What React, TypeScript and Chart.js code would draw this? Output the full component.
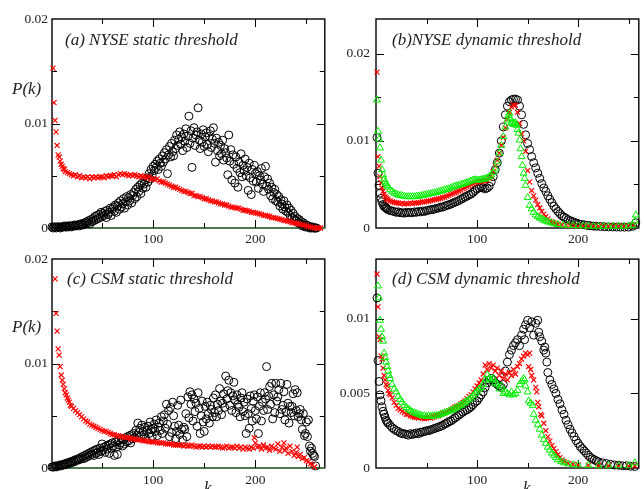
import React, { useEffect, useRef } from "react";
import { Chart, registerables } from "chart.js";

Chart.register(...registerables);

// ---------------- data: [k, P(k) x 1e3] ----------------
const nyseStaticCircles = [
[1,0.1],[2,0],[3,0.1],[4,0.1],[5,0],[6,0.1],[7,0.1],[8,0.1],[9,0],[10,0.1],
[11,0.1],[12,0.1],[13,0.2],[14,0.1],[15,0.1],[16,0.2],[17,0.1],[18,0.2],[19,0.2],[20,0.1],
[21,0.2],[22,0.2],[23,0.3],[24,0.2],[25,0.2],[26,0.3],[27,0.3],[28,0.2],[29,0.4],[30,0.3],
[31,0.4],[32,0.3],[33,0.5],[34,0.4],[35,0.6],[36,0.5],[37,0.7],[38,0.4],[39,0.8],[40,0.6],
[41,0.9],[42,0.7],[43,1.1],[44,0.8],[45,1.2],[46,0.9],[47,1.3],[48,1.0],[49,1.5],[50,1.1],
[51,1.4],[52,1.2],[53,1.6],[54,1.0],[55,1.7],[56,1.3],[57,1.5],[58,1.9],[59,1.2],[60,1.8],
[61,2.0],[62,1.6],[63,2.2],[64,1.5],[65,2.1],[66,2.4],[67,1.8],[68,2.6],[69,2.0],[70,2.3],
[71,2.8],[72,1.9],[73,2.5],[74,3.0],[75,2.2],[76,2.9],[77,2.6],[78,3.2],[79,2.4],[80,3.1],
[81,3.4],[82,2.8],[83,3.7],[84,3.0],[85,3.9],[86,3.5],[87,4.1],[88,3.3],[89,4.3],[90,3.8],
[91,4.2],[92,4.6],[93,3.9],[94,4.8],[95,4.4],[96,5.2],[97,4.7],[98,5.6],[99,5.0],[100,5.9],
[101,5.5],[102,6.1],[103,5.8],[104,6.4],[105,5.6],[106,6.6],[107,6.2],[108,5.9],[109,6.9],[110,6.3],
[111,7.2],[112,6.6],[113,7.5],[114,5.2],[115,7.0],[116,7.8],[117,6.8],[118,8.1],[119,7.3],[120,6.9],
[121,8.4],[122,7.6],[123,8.9],[124,7.9],[125,8.5],[126,9.2],[127,8.0],[128,8.7],[129,7.4],[130,9.0],
[131,8.3],[132,9.5],[133,7.7],[134,8.8],[135,10.7],[136,8.1],[137,9.3],[138,5.8],[139,8.6],[140,9.6],
[141,7.9],[142,8.9],[143,9.2],[144,11.5],[145,8.4],[146,7.6],[147,9.0],[148,8.2],[149,9.4],[150,7.8],
[151,8.7],[152,9.1],[153,8.0],[154,7.3],[155,8.8],[156,9.3],[157,7.7],[158,8.5],[159,9.6],[160,8.1],
[161,6.3],[162,8.6],[163,7.4],[164,8.2],[165,6.9],[166,7.9],[167,7.1],[168,8.4],[169,6.5],[170,7.6],
[171,7.2],[172,6.7],[173,5.1],[174,8.9],[175,6.4],[176,7.5],[177,4.6],[178,7.0],[179,6.1],[180,4.3],
[181,6.8],[182,5.7],[183,3.9],[184,6.3],[185,5.3],[186,7.1],[187,4.9],[188,6.0],[189,5.5],[190,6.6],
[191,5.0],[192,5.8],[193,3.6],[194,6.2],[195,4.8],[196,3.2],[197,5.6],[198,4.5],[199,6.0],[200,5.2],
[201,4.4],[202,5.4],[203,3.8],[204,5.0],[205,4.6],[206,5.7],[207,4.2],[208,3.5],[209,4.9],[210,5.9],
[211,4.0],[212,4.7],[213,3.7],[214,4.3],[215,3.1],[216,3.9],[217,2.8],[218,3.4],[219,3.7],[220,2.6],
[221,3.2],[222,2.5],[223,3.0],[224,2.1],[225,2.7],[226,2.3],[227,1.8],[228,2.6],[229,2.0],[230,1.6],
[231,2.2],[232,1.5],[233,1.9],[234,1.2],[235,1.7],[236,1.0],[237,1.4],[238,0.8],[239,1.1],[240,0.7],
[241,0.9],[242,0.5],[243,0.8],[244,0.4],[245,0.6],[246,0.2],[247,0.5],[248,0.3],[249,0.1],[250,0.3],
[251,0.1],[252,0.2],[253,0],[254,0.1],[255,0],[256,0.1],[257,0],[258,0],[259,0],[260,0]
];

const nyseStaticCrosses = [
[2,15.3],[3,12.0],[4,10.3],[5,9.2],[6,7.9],[7,7.0],[8,6.8],[9,6.4],[10,6.1],[11,5.9],[12,5.7],[13,5.6],[14,5.4],
[16,5.3],[18,5.2],[20,5.1],[22,5.0],[24,5.1],[26,4.9],[28,5.0],[30,4.8],[32,4.9],[34,4.8],[36,4.9],[38,4.7],[40,4.9],
[42,4.8],[44,4.9],[46,4.8],[48,4.9],[50,4.9],[52,4.8],[54,5.0],[56,4.9],[58,5.0],[60,5.0],[62,5.1],[64,4.9],
[66,5.1],[68,5.2],[70,5.1],[72,5.2],[74,5.1],[76,5.0],[78,5.1],[80,5.0],[82,5.1],[84,5.0],[86,4.9],[88,5.0],
[90,4.9],[92,4.9],[94,4.8],[96,4.9],[98,4.7],[100,4.7],[102,4.6],[104,4.7],[106,4.5],[108,4.4],[110,4.4],[112,4.3],
[114,4.2],[116,4.1],[118,4.0],[120,3.9],[122,3.9],[124,3.8],[126,3.7],[128,3.6],[130,3.5],[132,3.5],[134,3.4],
[136,3.3],[138,3.3],[140,3.1],[142,3.1],[144,3.0],[146,3.0],[148,2.9],[150,2.8],[152,2.8],[154,2.7],[156,2.6],
[158,2.6],[160,2.5],[162,2.5],[164,2.4],[166,2.3],[168,2.3],[170,2.2],[172,2.2],[174,2.1],[176,2.0],[178,2.0],
[180,1.95],[182,1.9],[184,1.9],[186,1.8],[188,1.7],[190,1.7],[192,1.65],[194,1.6],[196,1.5],[198,1.5],[200,1.45],
[202,1.4],[204,1.35],[206,1.3],[208,1.2],[210,1.2],[212,1.15],[214,1.1],[216,1.0],[218,1.0],[220,0.95],[222,0.9],
[224,0.85],[226,0.8],[228,0.7],[230,0.7],[232,0.65],[234,0.6],[236,0.5],[238,0.5],[240,0.45],[242,0.4],[244,0.35],
[246,0.3],[248,0.25],[250,0.2],[252,0.15],[254,0.1],[256,0.05],[258,0],[260,0],[262,0],[264,0]
];

const nyseDynCircles = [
[1,10.4],[2,6.3],[3,4.9],[4,4.0],[5,3.4],[6,3.0],[7,2.7],[8,2.5],[9,2.4],[10,2.3],[11,2.2],[12,2.1],[14,2.0],
[16,1.95],[18,1.9],[20,1.8],[22,1.85],[24,1.75],[26,1.75],[28,1.7],[30,1.8],[32,1.75],[34,1.8],[36,1.75],[38,1.85],
[40,1.8],[42,1.9],[44,1.85],[46,1.95],[48,1.9],[50,2.0],[52,2.05],[54,2.1],[56,2.1],[58,2.2],[60,2.25],[62,2.3],
[64,2.4],[66,2.4],[68,2.5],[70,2.6],[72,2.65],[74,2.75],[76,2.85],[78,2.95],[80,3.05],[82,3.15],[84,3.3],[86,3.4],
[88,3.55],[90,3.65],[92,3.8],[94,3.9],[96,4.1],[98,4.3],[100,4.5],[102,4.6],[104,4.7],[106,4.6],[108,4.5],
[110,4.6],[112,4.8],[114,5.3],[116,5.9],[118,6.7],[120,7.5],[122,8.6],[124,10.0],[126,11.6],[128,13.0],[130,14.0],
[132,14.5],[134,14.7],[136,14.8],[138,14.8],[140,14.7],[142,14.0],[144,13.0],[146,11.9],[148,10.7],[150,9.7],
[152,9.0],[154,8.2],[156,7.5],[158,6.9],[160,6.3],[162,5.7],[164,5.1],[166,4.6],[168,4.2],[170,3.7],[172,3.3],
[174,2.9],[176,2.5],[178,2.2],[180,1.9],[182,1.65],[184,1.4],[186,1.25],[188,1.1],[190,0.95],[192,0.85],[194,0.75],
[196,0.65],[198,0.57],[200,0.5],[203,0.42],[206,0.36],[209,0.3],[212,0.26],[215,0.22],[218,0.2],[222,0.17],
[226,0.15],[230,0.13],[234,0.12],[238,0.11],[242,0.1],[246,0.1],[250,0.1],[254,0.2],[257,0.6]
];

const nyseDynCrosses = [
[1,17.9],[2,8.2],[3,7.1],[4,5.9],[5,5.2],[6,4.6],[7,4.2],[8,3.9],[9,3.6],[10,3.45],[11,3.3],[12,3.2],[14,3.1],
[16,3.0],[18,2.95],[20,2.9],[22,2.85],[24,2.8],[26,2.85],[28,2.75],[30,2.8],[32,2.8],[34,2.85],[36,2.8],[38,2.9],
[40,2.85],[42,2.9],[44,2.95],[46,3.0],[48,3.0],[50,3.05],[52,3.1],[54,3.15],[56,3.2],[58,3.25],[60,3.3],[62,3.35],
[64,3.4],[66,3.5],[68,3.55],[70,3.65],[72,3.75],[74,3.85],[76,3.95],[78,4.05],[80,4.15],[82,4.25],[84,4.35],
[86,4.5],[88,4.6],[90,4.75],[92,4.85],[94,5.0],[96,5.1],[98,5.2],[100,5.3],[102,5.3],[104,5.35],[106,5.4],
[108,5.4],[110,5.5],[112,5.7],[114,6.0],[116,6.5],[118,7.1],[120,7.8],[122,8.6],[124,9.5],[126,10.4],[128,11.5],
[130,12.5],[132,13.3],[134,13.9],[136,14.1],[138,14.1],[140,13.3],[142,12.0],[144,10.8],[146,10.0],[148,8.8],
[150,6.6],[152,5.3],[154,4.3],[156,3.7],[158,3.2],[160,2.7],[162,2.3],[164,1.9],[166,1.6],[168,1.3],[170,1.05],
[172,0.8],[174,0.7],[176,0.6],[178,0.5],[180,0.45],[184,0.38],[188,0.32],[192,0.27],[196,0.24],[200,0.22],
[205,0.2],[210,0.2],[215,0.2],[220,0.2],[225,0.2],[230,0.2],[235,0.2],[240,0.2],[245,0.2],[250,0.25],[255,0.4]
];

const nyseDynTriangles = [
[1,14.7],[2,11.1],[3,10.2],[4,9.2],[5,7.8],[6,6.7],[7,6.1],[8,5.6],[9,5.3],[10,5.1],[11,4.9],[12,4.7],[14,4.4],
[16,4.2],[18,4.0],[20,3.9],[22,3.8],[24,3.75],[26,3.7],[28,3.65],[30,3.6],[32,3.6],[34,3.6],[36,3.6],[38,3.6],
[40,3.65],[42,3.65],[44,3.7],[46,3.75],[48,3.8],[50,3.85],[52,3.9],[54,3.95],[56,4.0],[58,4.05],[60,4.1],[62,4.2],
[64,4.25],[66,4.3],[68,4.4],[70,4.45],[72,4.5],[74,4.6],[76,4.7],[78,4.8],[80,4.85],[82,4.9],[84,5.0],[86,5.05],
[88,5.15],[90,5.2],[92,5.3],[94,5.4],[96,5.5],[98,5.55],[100,5.5],[102,5.5],[104,5.55],[106,5.6],[108,5.65],
[110,5.75],[112,5.9],[114,6.1],[116,6.4],[118,6.8],[120,7.6],[122,8.6],[124,9.5],[126,10.5],[128,11.6],[130,12.4],
[131,12.9],[132,13.2],[133,12.6],[134,12.1],[135,12.0],[136,11.9],[137,12.0],[138,12.1],[139,11.8],[140,11.3],
[141,10.9],[142,10.1],[143,9.1],[144,8.2],[145,7.2],[146,6.3],[147,5.7],[148,4.9],[150,3.5],[152,2.6],[154,2.2],
[156,1.8],[158,1.5],[160,1.3],[162,1.15],[164,1.05],[166,0.9],[168,0.8],[170,0.7],[173,0.6],[176,0.5],[180,0.4],
[185,0.35],[190,0.3],[195,0.28],[200,0.25],[205,0.25],[210,0.22],[215,0.2],[220,0.2],[225,0.2],[230,0.2],
[235,0.2],[240,0.2],[245,0.2],[250,0.25],[254,0.3],[256,0.8],[257,1.5]
];

const csmStaticCircles = [
[1,0.1],[2,0.1],[3,0.1],[4,0.2],[5,0.1],[6,0.2],[7,0.2],[8,0.2],[9,0.3],[10,0.2],
[11,0.3],[12,0.3],[13,0.4],[14,0.3],[15,0.4],[16,0.5],[17,0.4],[18,0.5],[19,0.6],[20,0.5],
[21,0.6],[22,0.7],[23,0.6],[24,0.8],[25,0.7],[26,0.8],[27,0.9],[28,0.8],[29,1.0],[30,0.9],
[31,1.1],[32,0.9],[33,1.2],[34,1.0],[35,1.3],[36,1.1],[37,1.4],[38,1.2],[39,1.5],[40,1.3],
[41,1.6],[42,1.2],[43,1.7],[44,1.4],[45,1.8],[46,1.5],[47,1.3],[48,1.9],[49,1.6],[50,2.3],
[51,1.7],[52,2.0],[53,1.5],[54,2.1],[55,1.8],[56,2.2],[57,1.4],[58,2.3],[59,1.9],[60,2.4],
[61,2.1],[62,1.2],[63,2.5],[64,2.0],[65,1.3],[66,2.6],[67,2.2],[68,2.4],[69,2.8],[70,2.1],
[71,2.7],[72,2.3],[73,2.9],[74,2.5],[75,3.0],[76,2.6],[77,3.1],[78,2.4],[79,3.2],[80,2.8],
[81,3.3],[82,2.9],[83,3.6],[84,3.1],[85,4.3],[86,3.4],[87,3.8],[88,3.0],[89,4.1],[90,3.5],
[91,3.2],[92,3.9],[93,2.8],[94,3.6],[95,4.0],[96,3.3],[97,4.4],[98,3.7],[99,3.0],[100,3.8],
[101,4.2],[102,3.5],[103,4.6],[104,3.1],[105,3.9],[106,4.3],[107,3.6],[108,4.9],[109,3.3],[110,4.5],
[111,5.1],[112,3.8],[113,6.1],[114,4.2],[115,5.5],[116,3.0],[117,5.8],[118,3.4],[119,6.3],[120,5.0],
[121,4.0],[122,2.8],[123,3.5],[124,6.0],[125,4.1],[126,3.2],[127,6.5],[128,3.7],[129,2.7],[130,3.9],
[131,3.7],[132,5.2],[133,3.0],[134,6.8],[135,4.8],[136,7.3],[137,6.1],[138,7.0],[139,4.5],[140,6.6],
[141,5.4],[142,6.2],[143,4.0],[144,7.2],[145,5.7],[146,3.3],[147,5.0],[148,6.4],[149,4.4],[150,3.5],
[151,5.9],[152,4.7],[153,6.3],[154,5.2],[155,4.3],[156,6.0],[157,5.6],[158,4.9],[159,6.7],[160,5.3],
[161,7.0],[162,4.9],[163,6.1],[164,5.5],[165,7.6],[166,6.4],[167,5.1],[168,6.2],[169,7.1],[170,5.8],
[171,8.8],[172,6.6],[173,7.4],[174,8.4],[175,6.0],[176,7.2],[177,5.5],[178,6.9],[179,8.2],[180,6.5],
[181,5.3],[182,7.0],[183,6.1],[184,5.8],[185,4.9],[186,6.7],[187,7.2],[188,5.4],[189,6.3],[190,5.0],
[191,3.3],[192,6.6],[193,5.2],[194,3.8],[195,6.9],[196,5.7],[197,4.5],[198,6.4],[199,7.0],[200,5.5],
[201,4.7],[202,6.8],[203,3.3],[204,5.9],[205,7.2],[206,4.5],[207,6.3],[208,5.5],[209,7.2],[210,6.6],
[211,9.7],[212,5.6],[213,6.9],[214,7.8],[215,6.1],[216,8.1],[217,4.7],[218,7.0],[219,5.3],[220,8.1],
[221,6.4],[222,6.8],[223,7.5],[224,5.2],[225,8.1],[226,5.6],[227,6.0],[228,7.3],[229,4.6],[230,5.4],
[231,8.0],[232,6.2],[233,4.3],[234,5.9],[235,5.3],[236,5.9],[237,7.1],[238,5.0],[239,7.5],[240,5.5],
[241,7.2],[242,4.9],[243,5.2],[244,5.6],[245,4.6],[246,3.7],[247,5.2],[248,3.1],[249,3.3],[250,4.4],
[251,3.0],[252,4.6],[253,2.1],[254,1.6],[255,1.9],[256,1.4],[257,1.2],[258,1.1],[259,0.2]
];

const csmStaticCrosses = [
[4,18.1],[5,14.8],[6,13.1],[7,11.4],[8,10.8],[9,9.7],[10,8.9],[11,8.4],[12,8.0],[13,7.6],[14,7.2],[15,7.0],
[16,6.7],[17,6.5],[18,6.3],[19,6.0],[20,5.9],[22,5.7],[24,5.5],[26,5.3],[28,5.1],[30,4.9],[32,4.7],[34,4.5],
[36,4.4],[38,4.2],[40,4.1],[42,4.0],[44,3.9],[46,3.8],[48,3.7],[50,3.6],[52,3.5],[54,3.5],[56,3.4],[58,3.3],
[60,3.2],[62,3.2],[64,3.1],[66,3.1],[68,3.0],[70,3.0],[72,2.9],[74,2.9],[76,2.9],[78,2.8],[80,2.8],[82,2.8],
[84,2.7],[86,2.7],[88,2.7],[90,2.6],[92,2.6],[94,2.6],[96,2.5],[98,2.5],[100,2.5],[102,2.5],[104,2.4],[106,2.4],
[108,2.4],[110,2.4],[112,2.3],[114,2.3],[116,2.3],[118,2.3],[120,2.2],[122,2.2],[124,2.2],[126,2.2],[128,2.2],
[130,2.1],[132,2.2],[134,2.1],[136,2.1],[138,2.2],[140,2.1],[142,2.0],[144,2.1],[146,2.1],[148,2.0],[150,2.1],
[152,2.0],[154,2.1],[156,2.0],[158,2.1],[160,2.0],[162,2.0],[164,2.1],[166,2.0],[168,1.9],[170,2.0],[172,2.1],
[174,1.9],[176,2.0],[178,2.0],[180,1.9],[182,2.1],[184,1.9],[186,2.0],[188,1.8],[190,2.0],[192,1.9],[194,1.8],
[196,2.0],[198,1.9],[199,2.9],[200,2.4],[202,2.0],[204,2.1],[206,1.8],[208,2.2],[210,1.9],[212,2.0],[214,1.7],
[216,2.1],[218,1.9],[220,1.8],[222,2.3],[224,1.6],[226,2.0],[228,2.4],[229,1.7],[230,1.9],[232,1.4],[234,2.1],
[236,1.6],[238,1.2],[240,1.5],[241,2.0],[242,1.1],[244,1.3],[246,0.9],[248,1.0],[250,0.7],[252,0.6],[254,0.4],
[256,0.3],[258,0.1]
];

const csmDynCircles = [
[1,11.4],[2,7.2],[3,5.8],[4,4.9],[5,4.5],[6,4.1],[7,3.8],[8,3.6],[9,3.4],[10,3.2],[11,3.1],[12,3.0],[14,2.85],
[16,2.7],[18,2.6],[20,2.5],[22,2.45],[24,2.35],[26,2.3],[28,2.3],[30,2.25],[32,2.2],[34,2.3],[36,2.25],[38,2.3],
[40,2.35],[42,2.3],[44,2.4],[46,2.4],[48,2.45],[50,2.5],[52,2.5],[54,2.55],[56,2.6],[58,2.65],[60,2.7],[62,2.75],
[64,2.8],[66,2.85],[68,2.95],[70,3.0],[72,3.1],[74,3.15],[76,3.25],[78,3.35],[80,3.45],[82,3.55],[84,3.65],
[86,3.75],[88,3.85],[90,3.9],[92,4.0],[94,4.1],[96,4.25],[98,4.4],[100,4.5],[102,4.7],[104,4.9],[106,5.1],
[108,5.4],[110,5.7],[112,5.9],[114,6.0],[116,5.9],[118,5.7],[120,5.6],[122,5.5],[124,5.4],[126,5.6],[128,6.5],
[130,7.1],[132,7.6],[134,7.9],[136,8.2],[138,8.4],[140,8.6],[142,8.2],[144,8.9],[146,9.3],[147,8.6],[148,9.6],
[150,9.9],[152,9.4],[154,9.8],[156,8.9],[158,9.7],[160,9.9],[161,9.1],[162,8.8],[164,8.5],[166,7.9],[167,8.1],
[168,7.7],[169,7.1],[170,6.4],[172,5.9],[174,5.6],[176,5.3],[178,5.0],[180,4.6],[182,4.3],[184,3.9],[186,3.6],
[188,3.2],[190,2.9],[192,2.6],[194,2.35],[196,2.1],[198,1.85],[200,1.65],[202,1.45],[204,1.3],[206,1.15],
[208,1.0],[210,0.85],[212,0.72],[214,0.62],[216,0.55],[218,0.48],[220,0.42],[224,0.35],[228,0.3],[232,0.25],
[236,0.2],[240,0.18],[244,0.15],[248,0.15],[252,0.12],[256,0.1]
];

const csmDynCrosses = [
[1,13.0],[2,10.8],[3,8.8],[4,8.6],[5,7.5],[6,7.3],[7,6.7],[8,6.2],[9,5.9],[10,5.6],[11,5.5],[12,5.2],[13,5.0],
[14,4.9],[16,4.7],[18,4.4],[20,4.2],[22,4.0],[24,3.9],[26,3.8],[28,3.7],[30,3.6],[32,3.6],[34,3.5],[36,3.45],
[38,3.4],[40,3.4],[42,3.35],[44,3.4],[46,3.35],[48,3.3],[50,3.35],[52,3.4],[54,3.35],[56,3.4],[58,3.45],[60,3.5],
[62,3.5],[64,3.6],[66,3.65],[68,3.7],[70,3.8],[72,3.85],[74,3.9],[76,4.0],[78,4.1],[80,4.15],[82,4.2],[84,4.3],
[86,4.4],[88,4.5],[90,4.65],[92,4.8],[94,4.9],[96,5.1],[98,5.3],[100,5.5],[102,5.7],[104,5.9],[106,6.3],
[108,6.9],[110,6.6],[112,7.0],[114,6.7],[116,6.9],[118,6.5],[120,6.7],[122,6.2],[124,6.5],[126,6.0],[128,6.3],
[130,5.9],[132,6.4],[134,6.2],[136,6.6],[138,6.3],[140,6.8],[142,7.0],[144,7.3],[146,7.5],[148,7.7],[150,7.6],
[151,6.8],[152,7.7],[153,6.6],[154,6.2],[156,5.9],[158,5.4],[159,5.1],[160,4.4],[161,4.1],[163,3.6],[164,3.5],
[166,3.0],[168,2.5],[170,2.1],[172,1.8],[174,1.5],[176,1.3],[178,1.1],[180,0.9],[182,0.7],[184,0.55],[186,0.45],
[190,0.32],[195,0.25],[200,0.2],[210,0.18],[220,0.15],[230,0.15],[240,0.12],[250,0.12],[256,0.15]
];

const csmDynTriangles = [
[2,12.2],[3,11.4],[4,9.9],[5,9.3],[6,8.8],[7,8.5],[8,7.7],[9,7.4],[10,7.1],[11,6.8],[12,6.5],[13,6.2],[14,6.0],
[16,5.6],[18,5.3],[20,5.1],[22,4.8],[24,4.6],[26,4.4],[28,4.2],[30,4.05],[32,3.95],[34,3.85],[36,3.75],[38,3.7],
[40,3.65],[42,3.6],[44,3.55],[46,3.5],[48,3.5],[50,3.45],[52,3.5],[54,3.45],[56,3.5],[58,3.5],[60,3.5],[62,3.55],
[64,3.6],[66,3.65],[68,3.7],[70,3.75],[72,3.8],[74,3.85],[76,3.9],[78,4.0],[80,4.05],[82,4.15],[84,4.2],[86,4.3],
[88,4.4],[90,4.5],[92,4.6],[94,4.7],[96,4.85],[98,5.0],[100,5.15],[102,5.3],[104,5.4],[106,5.6],[108,5.9],
[110,6.25],[112,6.0],[114,5.9],[116,6.0],[118,5.7],[120,5.6],[122,5.3],[124,5.5],[126,5.0],[128,5.1],[130,5.0],
[132,4.9],[134,5.1],[136,4.9],[138,5.0],[140,5.2],[142,5.6],[144,5.8],[146,6.0],[147,5.9],[148,5.5],[150,5.1],
[151,4.5],[153,4.35],[155,4.2],[156,3.6],[158,3.2],[160,2.9],[162,2.6],[164,2.2],[166,1.9],[168,1.65],[170,1.4],
[172,1.2],[174,1.0],[176,0.85],[178,0.7],[180,0.55],[183,0.42],[186,0.35],[190,0.28],[195,0.22],[200,0.2],
[210,0.18],[220,0.15],[230,0.15],[240,0.15],[250,0.15],[256,0.35]
];

// ---------------- axes ----------------
const xLabelTicks = [100, 200];
const xMinorTicks = [50, 150, 250];
const yLabelsStatic = [0, 0.01, 0.02];
const yMinorStatic = [0.005, 0.015];
const yLabelsNyseDyn = [0, 0.01, 0.02];
const yMinorNyseDyn = [0.005, 0.015];
const yLabelsCsmDyn = [0, 0.005, 0.01];
const yMinorCsmDyn: number[] = [];

const SERIF = '"Liberation Serif", "DejaVu Serif", serif';
const TEXT = "#222";

const circleStyle = { pointStyle: "circle", pointRadius: 4, pointBorderWidth: 1, pointBorderColor: "#000", pointBackgroundColor: "rgba(0,0,0,0)" };
const crossStyle = { pointStyle: "crossRot", pointRadius: 3.5, pointBorderWidth: 1.2, pointBorderColor: "#ff0000", pointBackgroundColor: "#ff0000" };
const triStyle = { pointStyle: "triangle", pointRadius: 4, pointBorderWidth: 1, pointBorderColor: "#00ee00", pointBackgroundColor: "rgba(0,0,0,0)" };

const toXY = (arr: number[][]) => arr.map(([k, p]) => ({ x: k, y: p / 1000 }));

const framePlugin = {
  id: "frame",
  beforeDatasetsDraw(chart: any, _a: any, o: any) {
    const { ctx, chartArea: ca, scales } = chart;
    const xs = scales.x, ys = scales.y;
    ctx.save();
    ctx.strokeStyle = "#000";
    ctx.lineWidth = 1.4;
    ctx.strokeRect(ca.left, ca.top, ca.right - ca.left, ca.bottom - ca.top);
    if (o.baseColor) {
      ctx.strokeStyle = o.baseColor;
      ctx.beginPath();
      ctx.moveTo(ca.left, ca.bottom);
      ctx.lineTo(ca.right, ca.bottom);
      ctx.stroke();
    }
    ctx.strokeStyle = "#000";
    ctx.lineWidth = 1;
    const xt = (vals: number[], len: number) => {
      vals.forEach((v) => {
        const px = Math.round(xs.getPixelForValue(v)) + 0.5;
        if (px <= ca.left + 1 || px >= ca.right - 1) return;
        ctx.beginPath();
        ctx.moveTo(px, ca.bottom); ctx.lineTo(px, ca.bottom - len);
        ctx.moveTo(px, ca.top); ctx.lineTo(px, ca.top + len);
        ctx.stroke();
      });
    };
    const yt = (vals: number[], len: number) => {
      vals.forEach((v) => {
        const py = Math.round(ys.getPixelForValue(v)) + 0.5;
        if (py <= ca.top + 1 || py >= ca.bottom - 1) return;
        ctx.beginPath();
        ctx.moveTo(ca.left, py); ctx.lineTo(ca.left + len, py);
        ctx.moveTo(ca.right, py); ctx.lineTo(ca.right - len, py);
        ctx.stroke();
      });
    };
    xt(o.xMajor, 8); xt(o.xMinor, 5);
    yt(o.yMajor, 8); yt(o.yMinor, 5);
    ctx.restore();
  },
  afterDraw(chart: any, _a: any, o: any) {
    const { ctx, chartArea: ca } = chart;
    ctx.save();
    ctx.font = `italic 17px ${SERIF}`;
    ctx.fillStyle = TEXT;
    ctx.textBaseline = "middle";
    ctx.textAlign = "left";
    ctx.fillText(o.title, ca.left + o.tx, ca.top + o.ty);
    ctx.restore();
  },
};

type PanelProps = {
  left: number; top: number; w: number; h: number;
  yW: number; xH: number; padTop: number; padRight: number; yPad: number; xPad: number;
  xMin: number; xMax: number; yMax: number;
  yLabels: number[]; yMinor: number[];
  title: string; tx: number; ty: number; baseColor?: string;
  datasets: any[];
};

function Panel(p: PanelProps) {
  const ref = useRef<HTMLCanvasElement>(null);
  useEffect(() => {
    const chart = new Chart(ref.current as HTMLCanvasElement, {
      type: "scatter",
      data: { datasets: p.datasets },
      plugins: [framePlugin as any],
      options: {
        responsive: false,
        animation: false,
        events: [],
        layout: { padding: { top: p.padTop, right: p.padRight, left: 0, bottom: 0 } },
        plugins: {
          legend: { display: false },
          tooltip: { enabled: false },
          frame: { xMajor: xLabelTicks, xMinor: xMinorTicks, yMajor: p.yLabels, yMinor: p.yMinor, title: p.title, tx: p.tx, ty: p.ty, baseColor: p.baseColor },
        } as any,
        scales: {
          x: {
            type: "linear", min: p.xMin, max: p.xMax,
            grid: { display: false, drawTicks: false },
            border: { display: false },
            afterBuildTicks: (s: any) => { s.ticks = xLabelTicks.map((v) => ({ value: v })); },
            afterFit: (s: any) => { s.height = p.xH; },
            ticks: { font: { family: SERIF, size: 13.5 }, color: TEXT, padding: p.xPad, maxRotation: 0, autoSkip: false, callback: (v: any) => String(v) },
          },
          y: {
            type: "linear", min: 0, max: p.yMax,
            grid: { display: false, drawTicks: false },
            border: { display: false },
            afterBuildTicks: (s: any) => { s.ticks = p.yLabels.map((v) => ({ value: v })); },
            afterFit: (s: any) => { s.width = p.yW; },
            ticks: { font: { family: SERIF, size: 13.5 }, color: TEXT, padding: p.yPad, autoSkip: false, callback: (v: any) => (v === 0 ? "0" : String(v)) },
          },
        } as any,
      },
    } as any);
    return () => chart.destroy();
  }, []);
  return (
    <canvas ref={ref} width={p.w} height={p.h}
      style={{ position: "absolute", left: p.left, top: p.top, width: p.w, height: p.h }} />
  );
}

const mk = (data: number[][], style: any) => ({ data: toXY(data), showLine: false, clip: false, ...style });

const labelStyle: React.CSSProperties = {
  position: "absolute", fontFamily: SERIF, fontStyle: "italic", fontSize: 17, lineHeight: "17px", color: TEXT, whiteSpace: "nowrap",
};

export default function App() {
  return (
    <div style={{ position: "absolute", left: 0, top: 0, width: 644, height: 489, background: "#fff", overflow: "hidden" }}>
      <Panel left={0} top={0} w={330} h={245} yW={52} xH={17} padTop={19} padRight={2} yPad={4} xPad={3}
        xMin={1} xMax={268} yMax={0.02} yLabels={yLabelsStatic} yMinor={yMinorStatic}
        title="(a) NYSE static threshold" tx={13} ty={22} baseColor="#4d8a4d"
        datasets={[mk(nyseStaticCrosses, crossStyle), mk(nyseStaticCircles, circleStyle)]} />
      <Panel left={322} top={0} w={322} h={245} yW={54} xH={17} padTop={19} padRight={1} yPad={6} xPad={3}
        xMin={0} xMax={260} yMax={0.024} yLabels={yLabelsNyseDyn} yMinor={yMinorNyseDyn}
        title="(b)NYSE dynamic threshold" tx={16} ty={22}
        datasets={[mk(nyseDynTriangles, triStyle), mk(nyseDynCrosses, crossStyle), mk(nyseDynCircles, circleStyle)]} />
      <Panel left={0} top={245} w={330} h={244} yW={52} xH={21} padTop={14} padRight={2} yPad={4} xPad={4}
        xMin={1} xMax={268} yMax={0.02} yLabels={yLabelsStatic} yMinor={yMinorStatic}
        title="(c) CSM static threshold" tx={15} ty={21} baseColor="#4d8a4d"
        datasets={[mk(csmStaticCrosses, crossStyle), mk(csmStaticCircles, circleStyle)]} />
      <Panel left={322} top={245} w={322} h={244} yW={54} xH={21} padTop={14} padRight={1} yPad={6} xPad={4}
        xMin={0} xMax={260} yMax={0.014} yLabels={yLabelsCsmDyn} yMinor={yMinorCsmDyn}
        title="(d) CSM dynamic threshold" tx={16} ty={20}
        datasets={[mk(csmDynTriangles, triStyle), mk(csmDynCrosses, crossStyle), mk(csmDynCircles, circleStyle)]} />
      <span style={{ ...labelStyle, left: 12, top: 80 }}>P(k)</span>
      <span style={{ ...labelStyle, left: 12, top: 318 }}>P(k)</span>
      <span style={{ ...labelStyle, left: 204, top: 479 }}>k</span>
      <span style={{ ...labelStyle, left: 523, top: 479 }}>k</span>
    </div>
  );
}
